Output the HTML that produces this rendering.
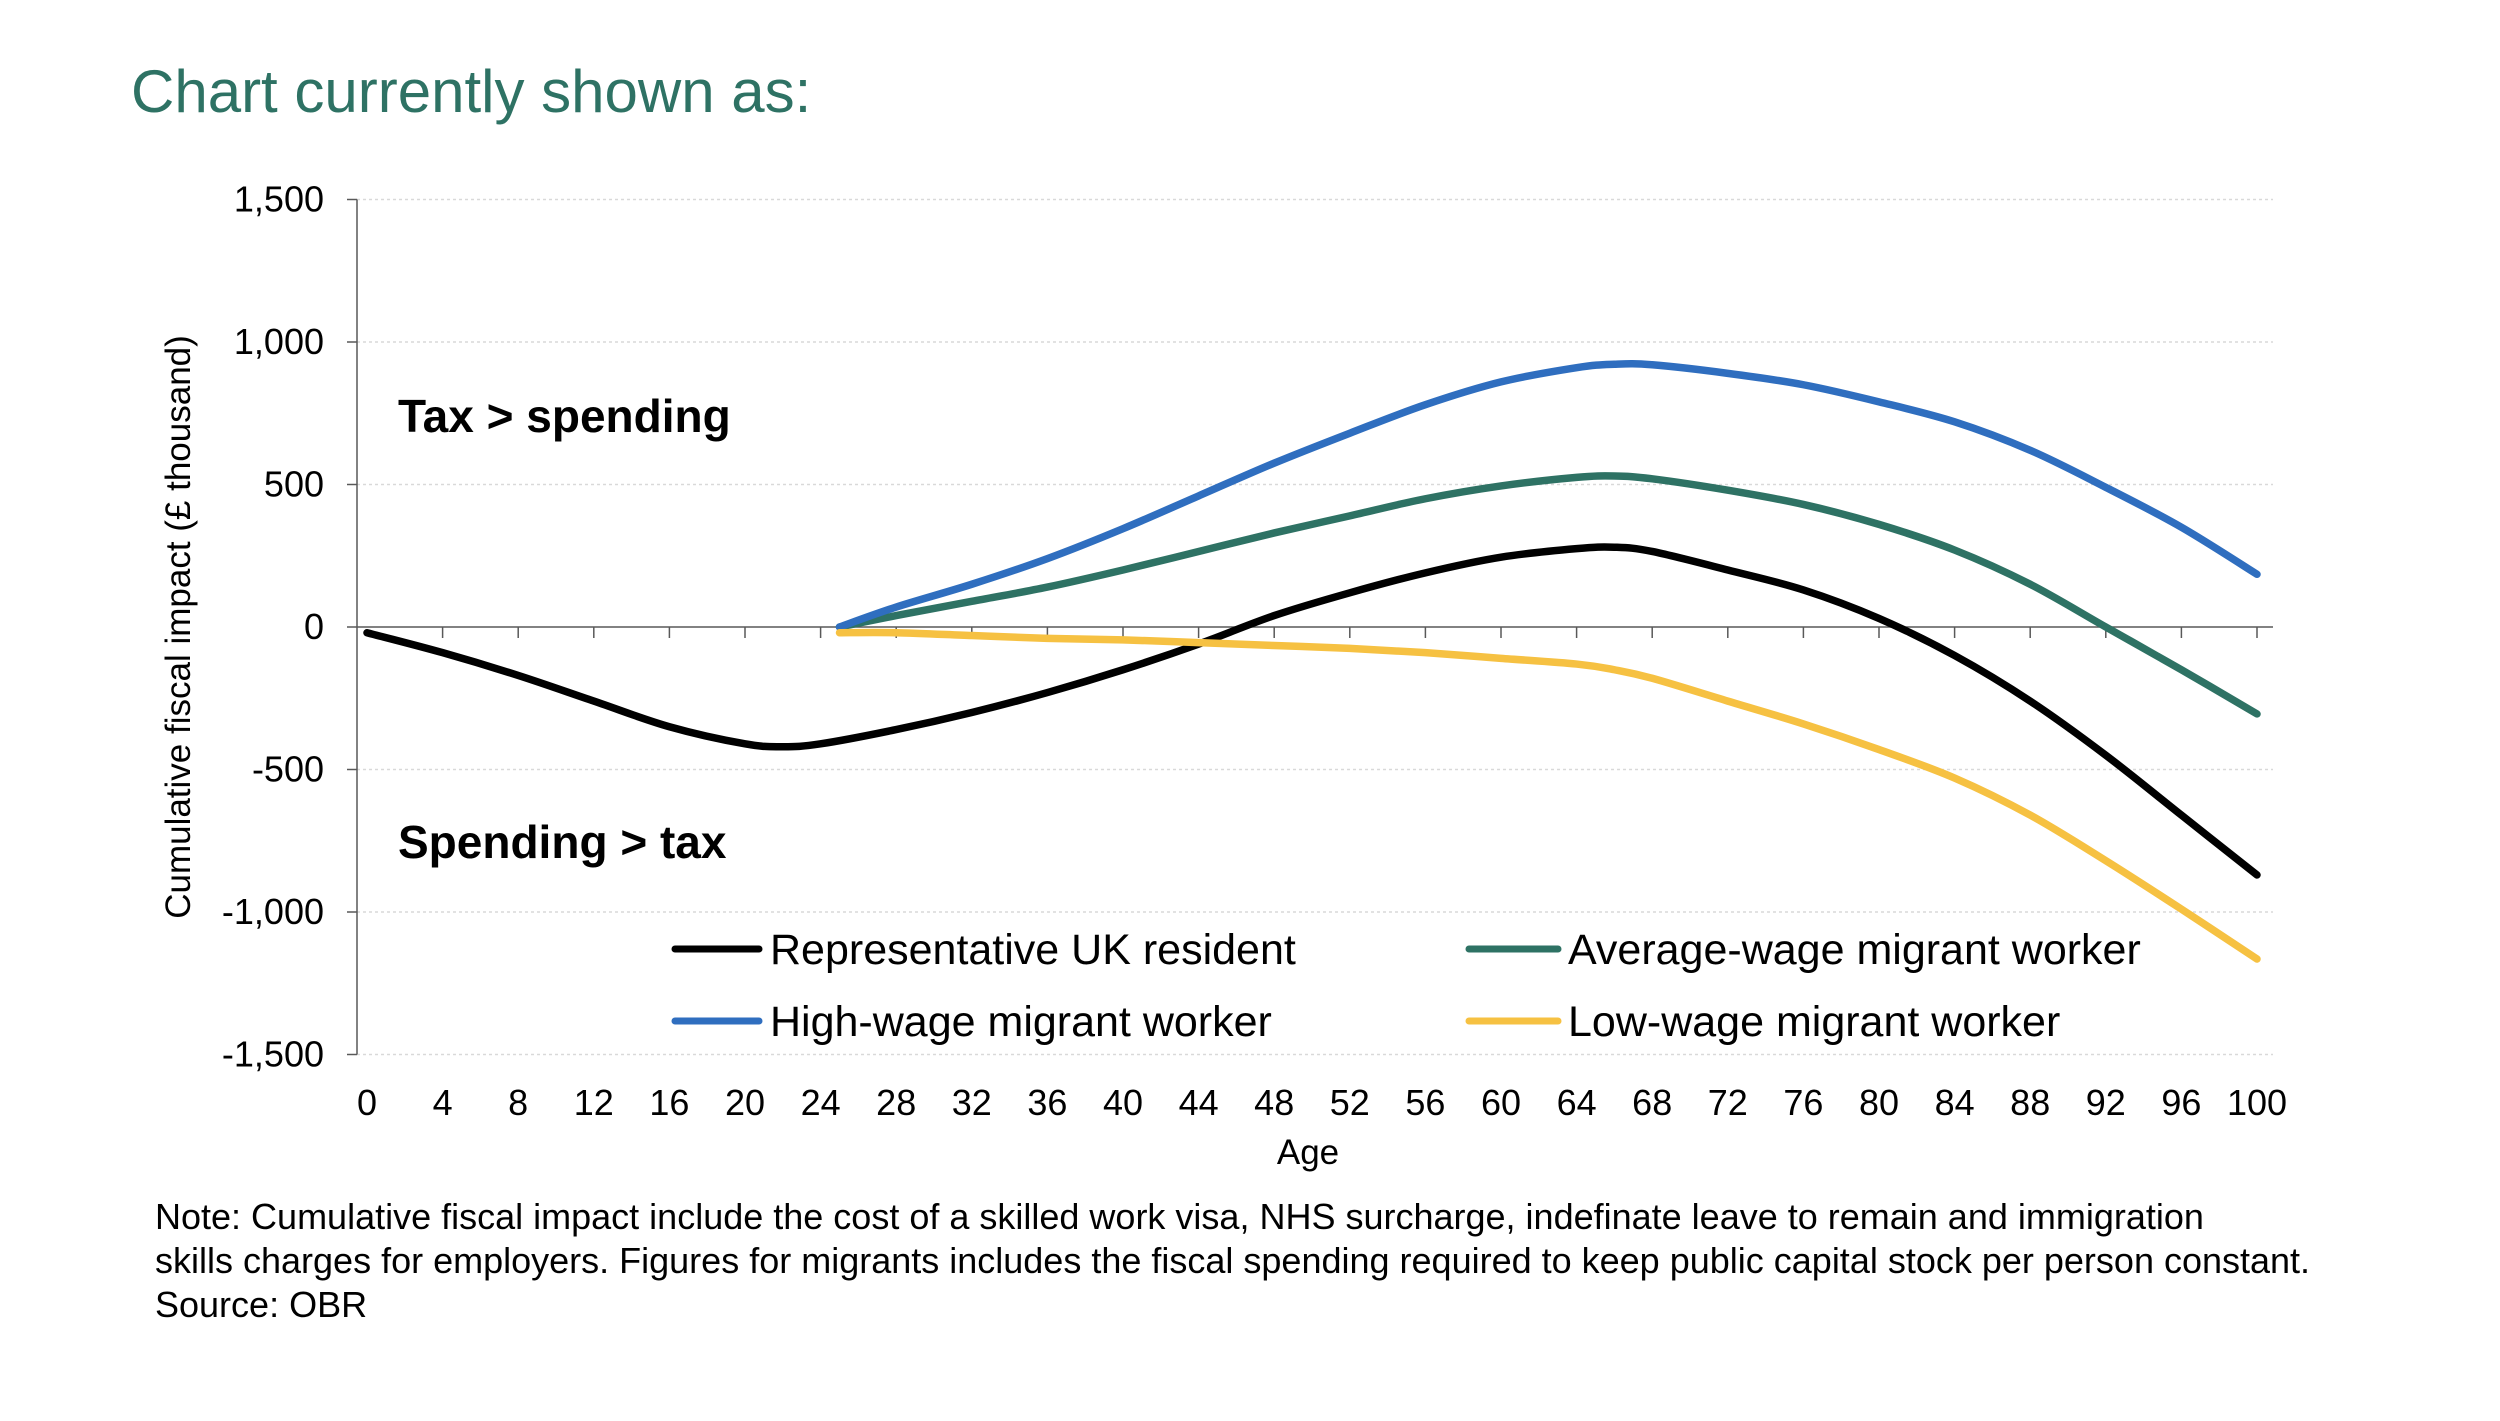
<!DOCTYPE html>
<html><head><meta charset="utf-8"><style>
html,body{margin:0;padding:0;background:#fff;}
body{width:2500px;height:1416px;overflow:hidden;font-family:"Liberation Sans",sans-serif;}
</style></head><body>
<svg id="chart" width="2500" height="1416" xmlns="http://www.w3.org/2000/svg" font-family="Liberation Sans, sans-serif">
<text x="131" y="112" font-size="60" fill="#2e7264">Chart currently shown as:</text>
<g id="grid"></g>
<g id="axes"></g>
<g id="series"></g>
<text transform="translate(190,627) rotate(-90)" text-anchor="middle" font-size="35" fill="#000">Cumulative fiscal impact (£ thousand)</text>
<text x="1308" y="1164" text-anchor="middle" font-size="35" fill="#000">Age</text>
<text x="398" y="432" font-size="46" font-weight="bold" fill="#000">Tax &gt; spending</text>
<text x="398" y="858" font-size="46" font-weight="bold" fill="#000">Spending &gt; tax</text>
<g font-size="43" fill="#000">
  <g><line x1="675" y1="949" x2="759" y2="949" stroke="#000" stroke-width="7" stroke-linecap="round"/><text x="770" y="964">Representative UK resident</text></g>
  <g><line x1="1469" y1="949" x2="1558" y2="949" stroke="#2e7264" stroke-width="7" stroke-linecap="round"/><text x="1568" y="964">Average-wage migrant worker</text></g>
  <g><line x1="675" y1="1021" x2="759" y2="1021" stroke="#2f6ebf" stroke-width="7" stroke-linecap="round"/><text x="770" y="1036">High-wage migrant worker</text></g>
  <g><line x1="1469" y1="1021" x2="1558" y2="1021" stroke="#f6c142" stroke-width="7" stroke-linecap="round"/><text x="1568" y="1036">Low-wage migrant worker</text></g>
</g>
<g font-size="36" fill="#000">
  <text x="155" y="1229">Note: Cumulative fiscal impact include the cost of a skilled work visa, NHS surcharge, indefinate leave to remain and immigration</text>
  <text x="155" y="1273">skills charges for employers. Figures for migrants includes the fiscal spending required to keep public capital stock per person constant.</text>
  <text x="155" y="1317">Source: OBR</text>
</g>
</svg>
<script>
const yTicks = [1500, 1000, 500, 0, -500, -1000, -1500];
const yTickLabels = ["1,500", "1,000", "500", "0", "-500", "-1,000", "-1,500"];
const xTicks = [0,4,8,12,16,20,24,28,32,36,40,44,48,52,56,60,64,68,72,76,80,84,88,92,96,100];
const ukAges = [0,4,8,12,16,20,22,24,28,32,36,40,44,48,52,56,60,64,66,68,72,76,80,84,88,92,96,100];
const ukValues = [-20,-90,-170,-260,-350,-410,-420,-410,-360,-300,-230,-150,-60,40,120,190,245,275,280,265,200,130,30,-100,-260,-450,-660,-870];
const migAges = [25,28,32,36,40,44,48,52,56,60,64,66,68,72,76,80,84,88,92,96,100];
const avgValues = [0,40,90,140,200,265,330,390,450,495,525,530,520,480,430,360,270,150,0,-150,-305];
const highValues = [0,70,150,240,345,460,575,680,780,860,910,922,920,890,850,790,720,620,490,350,185];
const lowValues = [-20,-20,-30,-40,-45,-55,-65,-75,-90,-110,-130,-150,-180,-260,-340,-430,-530,-660,-820,-990,-1165];

const NS = "http://www.w3.org/2000/svg";
const X0 = 367, XPER = 18.9, AXISX = 357, RIGHT = 2273;
const Y0 = 627, YPER = 0.285;
const xs = a => X0 + a * XPER;
const ys = v => Y0 - v * YPER;
function mk(tag, attrs, parent) { const e = document.createElementNS(NS, tag); for (const k in attrs) e.setAttribute(k, attrs[k]); parent.appendChild(e); return e; }

const grid = document.getElementById('grid');
const axes = document.getElementById('axes');
yTicks.forEach((v, i) => {
  if (v !== 0) {
    const g = mk('line', {x1: AXISX, x2: RIGHT, y1: ys(v), y2: ys(v), stroke: '#d9d9d9', 'stroke-width': 1.5, 'stroke-dasharray': '3,3'}, grid);
    
    
  }
  const t = mk('line', {x1: AXISX - 10, x2: AXISX, y1: ys(v), y2: ys(v), stroke: '#595959', 'stroke-width': 1.5}, axes);
  
  
  const lb = mk('text', {x: 324, y: ys(v) + 12, 'text-anchor': 'end', 'font-size': 36, fill: '#000'}, axes);
  lb.textContent = yTickLabels[i];
  
  
});
const ya = mk('line', {x1: AXISX, x2: AXISX, y1: ys(1500), y2: ys(-1500), stroke: '#595959', 'stroke-width': 1.5}, axes);


const xa = mk('line', {x1: AXISX, x2: RIGHT, y1: Y0, y2: Y0, stroke: '#595959', 'stroke-width': 1.5}, axes);


xTicks.forEach(a => {
  if (a > 0) {
    const t = mk('line', {x1: xs(a), x2: xs(a), y1: Y0, y2: Y0 + 11, stroke: '#595959', 'stroke-width': 1.5}, axes);
    
    
  }
  const lb = mk('text', {x: xs(a), y: 1115, 'text-anchor': 'middle', 'font-size': 36, fill: '#000'}, axes);
  lb.textContent = String(a);
  
  
});

function smoothPath(ages, vals) {
  const p = ages.map((a, i) => [xs(a), ys(vals[i])]);
  let d = 'M' + p[0][0] + ',' + p[0][1];
  for (let i = 0; i < p.length - 1; i++) {
    const p0 = p[i - 1] || p[i], p1 = p[i], p2 = p[i + 1], p3 = p[i + 2] || p2;
    const c1 = [p1[0] + (p2[0] - p0[0]) / 6, p1[1] + (p2[1] - p0[1]) / 6];
    const c2 = [p2[0] - (p3[0] - p1[0]) / 6, p2[1] - (p3[1] - p1[1]) / 6];
    d += ' C' + c1.join(',') + ' ' + c2.join(',') + ' ' + p2.join(',');
  }
  return d;
}
const series = document.getElementById('series');
const defs = [
  ['line-average-wage', migAges, avgValues, '#2e7264'],
  ['line-high-wage', migAges, highValues, '#2f6ebf'],
  ['line-uk-resident', ukAges, ukValues, '#000'],
  ['line-low-wage', migAges, lowValues, '#f6c142']
];
defs.forEach(s => {
  const e = mk('path', {d: smoothPath(s[1], s[2]), fill: 'none', stroke: s[3], 'stroke-width': 7.5, 'stroke-linecap': 'round', 'stroke-linejoin': 'round'}, series);
  
  
});
</script>
</body></html>
